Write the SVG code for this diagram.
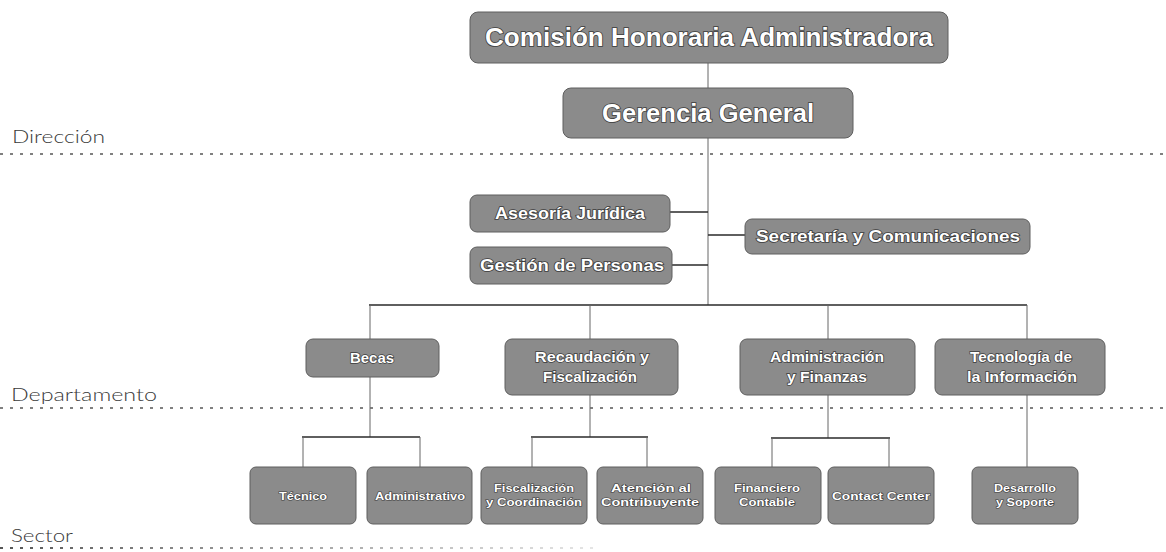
<svg xmlns="http://www.w3.org/2000/svg" width="1166" height="552" viewBox="0 0 1166 552">
<style>
.box{fill:#8b8b8b;stroke:#5e5e5e;stroke-width:1}
.t{font-family:"Liberation Sans",Arial,sans-serif;font-weight:bold;fill:#ffffff;stroke:#3c3c3c;stroke-width:1.6;paint-order:stroke;text-anchor:middle}
.big{font-size:25px}
.mid{font-size:16px}
.dep{font-size:14px;stroke-width:1.4}
.sec{font-size:11px;stroke-width:1.2}
.lvl{font-family:Lato,"Noto Sans",sans-serif;font-weight:300;font-size:17px;fill:#3a3a3a}
.dot{stroke:#808080;stroke-width:1.8;stroke-dasharray:3 7;fill:none}
.v{stroke:#666;stroke-width:1;fill:none}
.h{stroke:#2a2a2a;stroke-width:1.6;fill:none}
</style>
<defs>
<linearGradient id="fade" x1="0" y1="0" x2="600" y2="0" gradientUnits="userSpaceOnUse">
<stop offset="0" stop-color="#555"/>
<stop offset="0.3" stop-color="#888"/>
<stop offset="1" stop-color="#e6e6e6"/>
</linearGradient>
</defs>
<rect width="1166" height="552" fill="#ffffff"/>

<g id="levels">
<text class="lvl" x="12" y="143" textLength="93" lengthAdjust="spacingAndGlyphs">Dirección</text>
<line class="dot" x1="0" y1="154" x2="1166" y2="154"/>
<text class="lvl" x="11" y="401" textLength="146" lengthAdjust="spacingAndGlyphs">Departamento</text>
<line class="dot" x1="0" y1="408" x2="1166" y2="408"/>
<text class="lvl" x="11" y="542" textLength="62" lengthAdjust="spacingAndGlyphs">Sector</text>
<line x1="0" y1="548" x2="600" y2="548" stroke="url(#fade)" stroke-width="2" stroke-dasharray="3 7"/>
</g>

<g id="connectors">
<line class="v" x1="708" y1="63" x2="708" y2="88"/>
<line class="v" x1="708" y1="138" x2="708" y2="305"/>
<line class="h" x1="670" y1="212" x2="708" y2="212"/>
<line class="h" x1="672" y1="265" x2="708" y2="265"/>
<line class="h" x1="708" y1="235" x2="745" y2="235"/>
<line class="h" x1="369" y1="305" x2="1027" y2="305"/>
<line class="v" x1="370" y1="305" x2="370" y2="339"/>
<line class="v" x1="590" y1="305" x2="590" y2="339"/>
<line class="v" x1="828" y1="305" x2="828" y2="339"/>
<line class="v" x1="1027" y1="305" x2="1027" y2="339"/>
<line class="v" x1="370" y1="377" x2="370" y2="437"/>
<line class="h" x1="302" y1="437" x2="420" y2="437"/>
<line class="v" x1="303" y1="437" x2="303" y2="467"/>
<line class="v" x1="420" y1="437" x2="420" y2="467"/>
<line class="v" x1="590" y1="395" x2="590" y2="437"/>
<line class="h" x1="531" y1="437" x2="648" y2="437"/>
<line class="v" x1="532" y1="437" x2="532" y2="467"/>
<line class="v" x1="647" y1="437" x2="647" y2="467"/>
<line class="v" x1="828" y1="395" x2="828" y2="438"/>
<line class="h" x1="771" y1="438" x2="890" y2="438"/>
<line class="v" x1="772" y1="438" x2="772" y2="467"/>
<line class="v" x1="889" y1="438" x2="889" y2="467"/>
<line class="v" x1="1027" y1="395" x2="1027" y2="467"/>
</g>

<g id="n-comision">
<rect class="box" x="470" y="12" width="478" height="51" rx="8"/>
<text class="t big" x="709" y="46" textLength="448" lengthAdjust="spacingAndGlyphs">Comisión Honoraria Administradora</text>
</g>
<g id="n-gerencia">
<rect class="box" x="563" y="88" width="290" height="50" rx="8"/>
<text class="t big" x="708" y="122" textLength="212" lengthAdjust="spacingAndGlyphs">Gerencia General</text>
</g>
<g id="n-asesoria">
<rect class="box" x="470" y="195" width="200" height="37" rx="7"/>
<text class="t mid" x="570" y="219" textLength="150" lengthAdjust="spacingAndGlyphs">Asesoría Jurídica</text>
</g>
<g id="n-gestion">
<rect class="box" x="470" y="247" width="202" height="37" rx="7"/>
<text class="t mid" x="572" y="271" textLength="184" lengthAdjust="spacingAndGlyphs">Gestión de Personas</text>
</g>
<g id="n-secretaria">
<rect class="box" x="745" y="219" width="285" height="35" rx="7"/>
<text class="t mid" x="888" y="242" textLength="264" lengthAdjust="spacingAndGlyphs">Secretaría y Comunicaciones</text>
</g>

<g id="n-becas">
<rect class="box" x="306" y="339" width="133" height="38" rx="7"/>
<text class="t dep" x="372" y="363" textLength="44" lengthAdjust="spacingAndGlyphs">Becas</text>
</g>
<g id="n-recaudacion">
<rect class="box" x="505" y="339" width="173" height="56" rx="7"/>
<text class="t dep" x="592" y="362" textLength="114" lengthAdjust="spacingAndGlyphs">Recaudación y</text>
<text class="t dep" x="590" y="382" textLength="94" lengthAdjust="spacingAndGlyphs">Fiscalización</text>
</g>
<g id="n-administracion">
<rect class="box" x="740" y="339" width="175" height="56" rx="7"/>
<text class="t dep" x="827" y="362" textLength="114" lengthAdjust="spacingAndGlyphs">Administración</text>
<text class="t dep" x="827" y="382" textLength="80" lengthAdjust="spacingAndGlyphs">y Finanzas</text>
</g>
<g id="n-tecnologia">
<rect class="box" x="935" y="339" width="170" height="56" rx="7"/>
<text class="t dep" x="1021" y="362" textLength="102" lengthAdjust="spacingAndGlyphs">Tecnología de</text>
<text class="t dep" x="1022" y="382" textLength="110" lengthAdjust="spacingAndGlyphs">la Información</text>
</g>

<g id="n-tecnico">
<rect class="box" x="250" y="467" width="106" height="57" rx="6"/>
<text class="t sec" x="303" y="500" textLength="48" lengthAdjust="spacingAndGlyphs">Técnico</text>
</g>
<g id="n-administrativo">
<rect class="box" x="367" y="467" width="105" height="57" rx="6"/>
<text class="t sec" x="420" y="500" textLength="90" lengthAdjust="spacingAndGlyphs">Administrativo</text>
</g>
<g id="n-fiscalizacion">
<rect class="box" x="481" y="467" width="106" height="57" rx="6"/>
<text class="t sec" x="534" y="492" textLength="80" lengthAdjust="spacingAndGlyphs">Fiscalización</text>
<text class="t sec" x="534" y="506" textLength="96" lengthAdjust="spacingAndGlyphs">y Coordinación</text>
</g>
<g id="n-atencion">
<rect class="box" x="597" y="467" width="106" height="57" rx="6"/>
<text class="t sec" x="651" y="492" textLength="80" lengthAdjust="spacingAndGlyphs">Atención al</text>
<text class="t sec" x="650" y="506" textLength="98" lengthAdjust="spacingAndGlyphs">Contribuyente</text>
</g>
<g id="n-financiero">
<rect class="box" x="715" y="467" width="106" height="57" rx="6"/>
<text class="t sec" x="767" y="492" textLength="66" lengthAdjust="spacingAndGlyphs">Financiero</text>
<text class="t sec" x="767" y="506" textLength="56" lengthAdjust="spacingAndGlyphs">Contable</text>
</g>
<g id="n-contact">
<rect class="box" x="828" y="467" width="106" height="57" rx="6"/>
<text class="t sec" x="881" y="500" textLength="98" lengthAdjust="spacingAndGlyphs">Contact Center</text>
</g>
<g id="n-desarrollo">
<rect class="box" x="972" y="467" width="106" height="57" rx="6"/>
<text class="t sec" x="1025" y="492" textLength="62" lengthAdjust="spacingAndGlyphs">Desarrollo</text>
<text class="t sec" x="1025" y="506" textLength="58" lengthAdjust="spacingAndGlyphs">y Soporte</text>
</g>
</svg>
